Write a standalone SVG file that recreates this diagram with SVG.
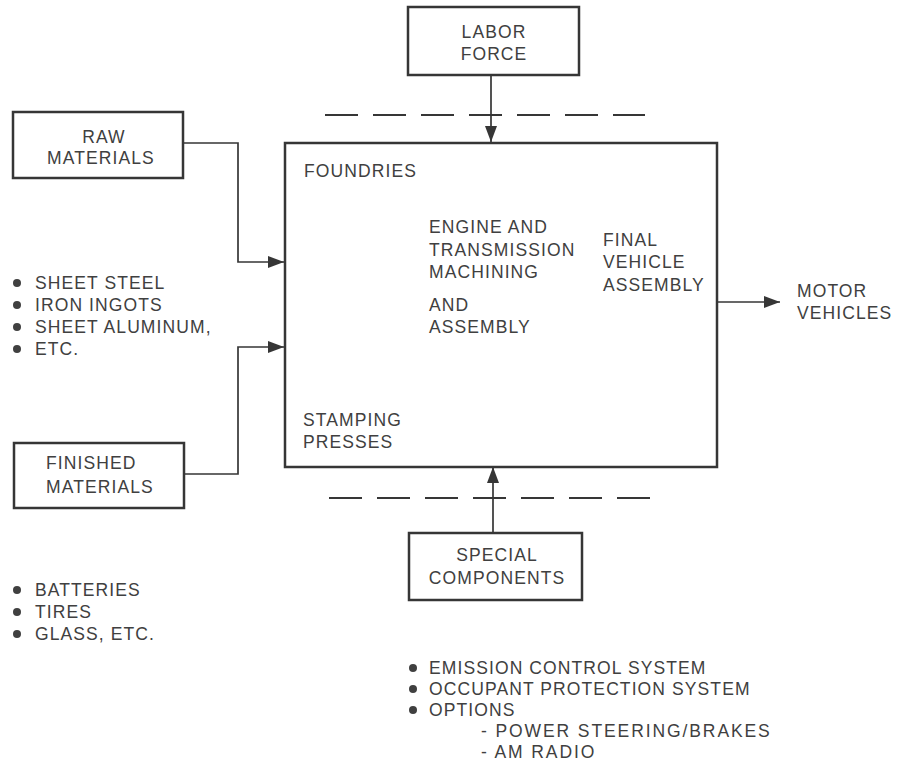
<svg xmlns="http://www.w3.org/2000/svg" width="901" height="771" viewBox="0 0 901 771">
  <style>
    text { font-family: "Liberation Sans", Arial, Helvetica, sans-serif; font-size: 17.5px; fill: #404040; letter-spacing: 1.1px; }
    .mid { text-anchor: middle; }
    .sub { letter-spacing: 1.9px; }
    .box { fill: none; stroke: #363636; stroke-width: 2.5; }
    .line { fill: none; stroke: #363636; stroke-width: 1.7; }
    .dash { fill: none; stroke: #363636; stroke-width: 2; stroke-dasharray: 33 15; }
    .dot { fill: #404040; }
  </style>
  <defs>
    <marker id="arrow" viewBox="0 0 16 12" refX="16" refY="6" markerWidth="16" markerHeight="12" markerUnits="userSpaceOnUse" orient="auto">
      <path d="M0,0 L16,6 L0,12 Z" fill="#363636"/>
    </marker>
  </defs>

  <!-- connectors -->
  <g id="connectors">
    <path class="line" d="M491,75 V142" marker-end="url(#arrow)"/>
    <path class="line" d="M183,143 H238 V262 H284" marker-end="url(#arrow)"/>
    <path class="line" d="M184,474 H238 V347 H284" marker-end="url(#arrow)"/>
    <path class="line" d="M493,533 V467" marker-end="url(#arrow)"/>
    <path class="line" d="M717,302 H780" marker-end="url(#arrow)"/>
    <path class="dash" d="M325,115 H645"/>
    <path class="dash" d="M329,498 H658"/>
  </g>

  <!-- labor force -->
  <g id="labor-force">
    <rect class="box" x="408" y="7" width="171" height="68"/>
    <text class="mid" x="494" y="38">LABOR</text>
    <text class="mid" x="494" y="60">FORCE</text>
  </g>

  <!-- raw materials -->
  <g id="raw-materials">
    <rect class="box" x="13" y="112" width="170" height="66"/>
    <text class="mid" x="104" y="143">RAW</text>
    <text class="mid" x="101" y="164">MATERIALS</text>
  </g>

  <!-- plant -->
  <g id="plant">
    <rect class="box" x="285" y="143" width="432" height="324"/>
    <text x="304" y="177">FOUNDRIES</text>
    <text x="429" y="233">ENGINE AND</text>
    <text x="429" y="256">TRANSMISSION</text>
    <text x="429" y="278">MACHINING</text>
    <text x="429" y="311">AND</text>
    <text x="429" y="333">ASSEMBLY</text>
    <text x="603" y="246">FINAL</text>
    <text x="603" y="268">VEHICLE</text>
    <text x="603" y="291">ASSEMBLY</text>
    <text x="303" y="426">STAMPING</text>
    <text x="303" y="448">PRESSES</text>
  </g>

  <!-- output -->
  <g id="motor-vehicles">
    <text x="797" y="297">MOTOR</text>
    <text x="797" y="319">VEHICLES</text>
  </g>

  <!-- finished materials -->
  <g id="finished-materials">
    <rect class="box" x="14" y="443" width="170" height="65"/>
    <text x="46" y="469">FINISHED</text>
    <text x="46" y="493">MATERIALS</text>
  </g>

  <!-- special components -->
  <g id="special-components">
    <rect class="box" x="409" y="533" width="173" height="67"/>
    <text class="mid" x="497" y="561">SPECIAL</text>
    <text class="mid" x="497" y="584">COMPONENTS</text>
  </g>

  <!-- raw material examples -->
  <g id="raw-list">
    <circle class="dot" cx="17" cy="283" r="4"/>
    <circle class="dot" cx="17" cy="305" r="4"/>
    <circle class="dot" cx="17" cy="327" r="4"/>
    <circle class="dot" cx="17" cy="349" r="4"/>
    <text x="35" y="289">SHEET STEEL</text>
    <text x="35" y="311">IRON INGOTS</text>
    <text x="35" y="333">SHEET ALUMINUM,</text>
    <text x="35" y="355">ETC.</text>
  </g>

  <!-- finished material examples -->
  <g id="finished-list">
    <circle class="dot" cx="17" cy="590" r="4"/>
    <circle class="dot" cx="17" cy="612" r="4"/>
    <circle class="dot" cx="17" cy="634" r="4"/>
    <text x="35" y="596">BATTERIES</text>
    <text x="35" y="618">TIRES</text>
    <text x="35" y="640">GLASS, ETC.</text>
  </g>

  <!-- special component examples -->
  <g id="special-list">
    <circle class="dot" cx="413" cy="668" r="4"/>
    <circle class="dot" cx="413" cy="689" r="4"/>
    <circle class="dot" cx="413" cy="710" r="4"/>
    <text x="429" y="674">EMISSION CONTROL SYSTEM</text>
    <text x="429" y="695">OCCUPANT PROTECTION SYSTEM</text>
    <text x="429" y="716">OPTIONS</text>
    <text class="sub" x="481" y="737">- POWER STEERING/BRAKES</text>
    <text class="sub" x="481" y="758">- AM RADIO</text>
  </g>
</svg>
